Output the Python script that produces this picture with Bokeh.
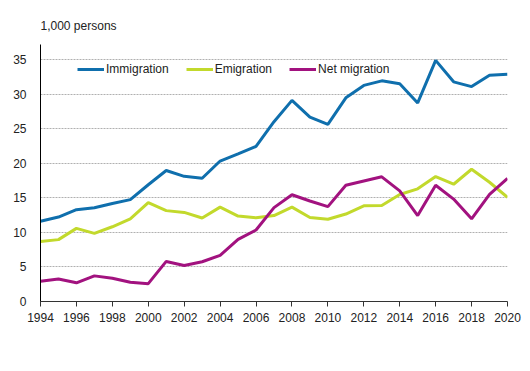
from bokeh.plotting import figure
from bokeh.models import Legend, LegendItem, Range1d, FixedTicker, Title
from bokeh.embed import file_html
from bokeh.resources import INLINE

years = list(range(1994, 2021))
immigration = [11.611, 12.222, 13.294, 13.564, 14.192, 14.744, 16.895, 18.955, 18.113, 17.838,
               20.333, 21.355, 22.451, 26.029, 29.114, 26.699, 25.636, 29.481, 31.278, 31.941,
               31.507, 28.746, 34.905, 31.797, 31.106, 32.758, 32.898]
emigration = [8.672, 8.957, 10.587, 9.854, 10.817, 11.966, 14.311, 13.153, 12.891, 12.083,
              13.656, 12.369, 12.107, 12.443, 13.657, 12.151, 11.905, 12.660, 13.845, 13.893,
              15.486, 16.305, 18.082, 16.973, 19.141, 17.263, 15.084]
net_migration = [2.939, 3.265, 2.707, 3.710, 3.375, 2.778, 2.584, 5.802, 5.222, 5.755,
                 6.677, 8.986, 10.344, 13.586, 15.457, 14.548, 13.731, 16.821, 17.433, 18.048,
                 16.021, 12.441, 16.823, 14.824, 11.965, 15.495, 17.814]
series_names = ["Immigration", "Emigration", "Net migration"]
colors = ["#0f6fad", "#c2d92c", "#a2127f"]
y_ticks = [0, 5, 10, 15, 20, 25, 30, 35]
x_ticks = list(range(1994, 2021, 2))

FONT = "Liberation Sans"

p = figure(width=530, height=371, output_backend="svg", toolbar_location=None,
           x_range=Range1d(1994, 2020), y_range=Range1d(0, 37.2),
           min_border_left=40, min_border_right=23, min_border_top=44, min_border_bottom=70)
p.outline_line_color = None
p.background_fill_color = "white"
p.border_fill_color = "white"

t = Title(text="1,000 persons", text_font=FONT, text_font_size="12px", text_font_style="normal",
          text_color="#222222", offset=0, standoff=23)
p.add_layout(t, "above")

p.xaxis.ticker = FixedTicker(ticks=x_ticks)
p.yaxis.ticker = FixedTicker(ticks=y_ticks)
p.xaxis.minor_tick_line_color = None
p.yaxis.minor_tick_line_color = None
p.yaxis.major_tick_line_color = None
p.xaxis.major_tick_in = 0
p.xaxis.major_tick_out = 5
p.xaxis.major_tick_line_color = "#333333"
p.xaxis.axis_line_color = "#333333"
p.yaxis.axis_line_color = "#000000"
for ax in (p.xaxis, p.yaxis):
    ax.major_label_text_font = FONT
    ax.major_label_text_font_size = "12px"
    ax.major_label_text_color = "#222222"
p.xaxis.major_label_standoff = 6
p.yaxis.major_label_standoff = 8

p.xgrid.grid_line_color = None
p.ygrid.grid_line_color = "#b0b0b0"
p.ygrid.grid_line_dash = "2 1"
p.ygrid.grid_line_width = 1

renderers = []
for ys, c in zip([immigration, emigration, net_migration], colors):
    r = p.line(years, ys, line_color=c, line_width=3)
    renderers.append(r)

legend = Legend(items=[LegendItem(label=n, renderers=[r]) for n, r in zip(series_names, renderers)],
                orientation="horizontal", location=(37, 225), border_line_color=None,
                background_fill_alpha=0, label_text_font=FONT, label_text_font_size="12px",
                label_text_color="#222222", glyph_width=27, glyph_height=14, label_height=14,
                label_standoff=2, spacing=17, padding=0, margin=0)
p.add_layout(legend)

open("out.html", "w").write(file_html(p, INLINE))
